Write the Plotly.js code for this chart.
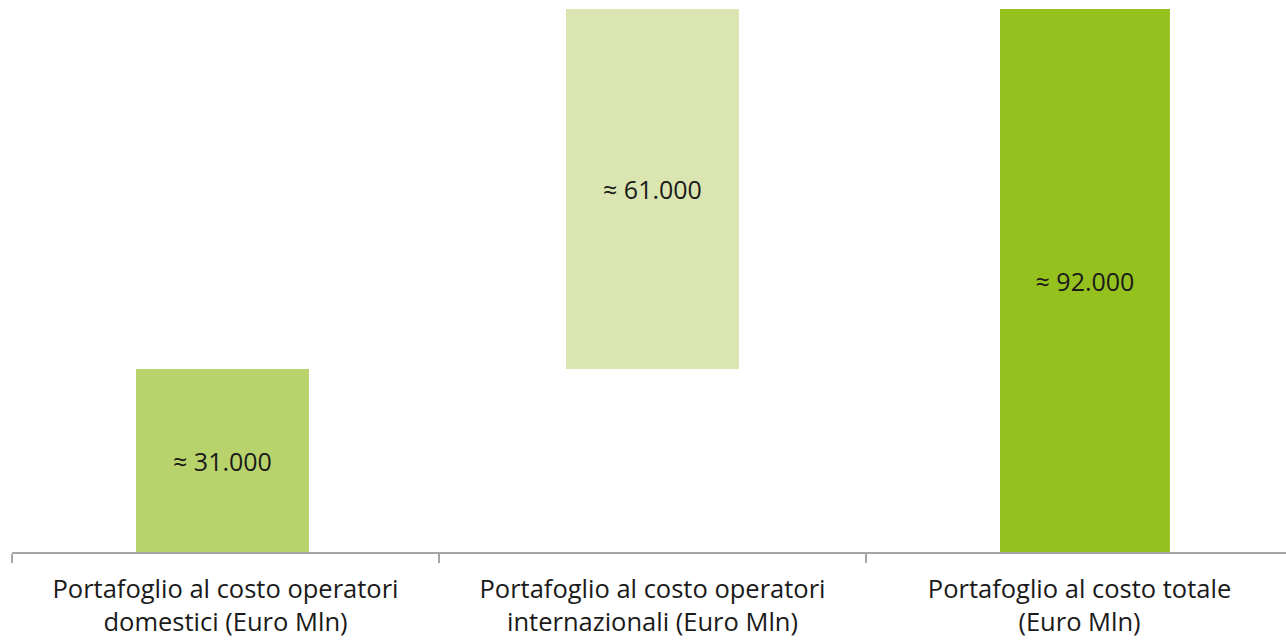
<!DOCTYPE html>
<html>
<head>
<meta charset="utf-8">
<script src="https://cdn.plot.ly/plotly-3.0.1.min.js"></script>
<style>
html,body{margin:0;padding:0;overflow:hidden;background:#fff;}
#chart{width:1293px;height:641px;}
</style>
</head>
<body>
<div id="chart"></div>
<script>
const categories = [
  "Portafoglio al costo operatori<br>domestici (Euro Mln)",
  "Portafoglio al costo operatori<br>internazionali (Euro Mln)",
  "Portafoglio al costo totale<br>(Euro Mln)"
];
const values = [31000, 61000, 92000];
const bases = [0, 31000, 0];
const labels = ["≈ 31.000", "≈ 61.000", "≈ 92.000"];
const colors = ["#b9d36c", "#dae5b1", "#95c11f"];

const trace = {
  type: "bar",
  x: categories,
  y: values,
  base: bases,
  width: [0.405, 0.405, 0.398],
  offset: [-0.2096, -0.2026, -0.1862],
  marker: {color: colors, line: {width: 0}},
  text: labels,
  textposition: "inside",
  insidetextanchor: "middle",
  textangle: 0,
  textfont: {family: "'Open Sans', sans-serif", size: 25, color: "#1a1a1a"},
  hoverinfo: "skip"
};

const layout = {
  width: 1293,
  height: 641,
  margin: {l: 12, r: 0, t: 9, b: 89},
  paper_bgcolor: "#ffffff",
  plot_bgcolor: "#ffffff",
  showlegend: false,
  font: {family: "'Open Sans', sans-serif", color: "#1a1a1a"},
  xaxis: {
    type: "category",
    range: [-0.5, 2.5],
    showline: true,
    linecolor: "#a6a6a6",
    linewidth: 2,
    ticks: "outside",
    tickson: "boundaries",
    ticklen: 9,
    tickwidth: 2,
    tickcolor: "#a6a6a6",
    ticklabelstandoff: 13,
    tickfont: {family: "'Open Sans', sans-serif", size: 25.5, color: "#1a1a1a"},
    showgrid: false,
    zeroline: false,
    fixedrange: true
  },
  yaxis: {
    range: [0, 92000],
    visible: false,
    showgrid: false,
    zeroline: false,
    fixedrange: true
  }
};

Plotly.newPlot("chart", [trace], layout, {displayModeBar: false, staticPlot: true});
</script>
</body>
</html>
